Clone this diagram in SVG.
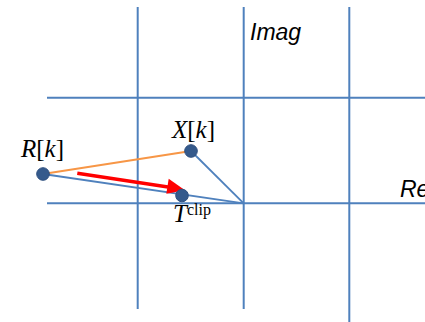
<svg xmlns="http://www.w3.org/2000/svg" width="425" height="322" viewBox="0 0 425 322">
<style>
.grid{stroke:#4f81bd;stroke-width:2;fill:none}
.vec{stroke:#4f81bd;stroke-width:1.8;fill:none}
.dot{fill:#355a8c;stroke:#2f5080;stroke-width:1}
.sans{font-family:"Liberation Sans",Arial,sans-serif;font-style:italic;font-size:23px;fill:#000}
.serif{font-family:"Liberation Serif","Times New Roman",serif;font-size:25px;fill:#000}
</style>
<g id="grid">
<line class="grid" x1="137.7" y1="7" x2="137.7" y2="309"/>
<line class="grid" x1="243.7" y1="7" x2="243.7" y2="309"/>
<line class="grid" x1="349.3" y1="7" x2="349.3" y2="322"/>
<line class="grid" x1="47" y1="97.7" x2="425" y2="97.7"/>
<line class="grid" x1="47" y1="203.3" x2="425" y2="203.3"/>
</g>
<g id="axis-labels">
<text class="sans" x="250" y="40">Imag</text>
<text class="sans" x="400" y="197">Re</text>
</g>
<g id="connectors">
<line x1="43" y1="174" x2="191" y2="151" stroke="#f79646" stroke-width="2"/>
<line class="vec" x1="43" y1="174" x2="243.7" y2="203.3"/>
<line class="vec" x1="191" y1="151" x2="243.7" y2="203.3"/>
<line x1="77.3" y1="173.3" x2="168" y2="187" stroke="#ff0000" stroke-width="3.5"/>
<polygon points="185,190.2 168.7,178.7 166.3,193.7" fill="#ff0000"/>
</g>
<g id="node-R">
<circle class="dot" cx="43" cy="174" r="6.3"/>
<text class="serif" x="21" y="157"><tspan font-style="italic">R</tspan>[<tspan font-style="italic">k</tspan>]</text>
</g>
<g id="node-X">
<circle class="dot" cx="191" cy="151" r="6.3"/>
<text class="serif" x="172" y="138"><tspan font-style="italic">X</tspan>[<tspan font-style="italic">k</tspan>]</text>
</g>
<g id="node-T">
<circle class="dot" cx="182" cy="195.5" r="6.3"/>
<text class="serif" x="173" y="222"><tspan font-style="italic">T</tspan><tspan font-size="16" dy="-7">clip</tspan></text>
</g>
</svg>
